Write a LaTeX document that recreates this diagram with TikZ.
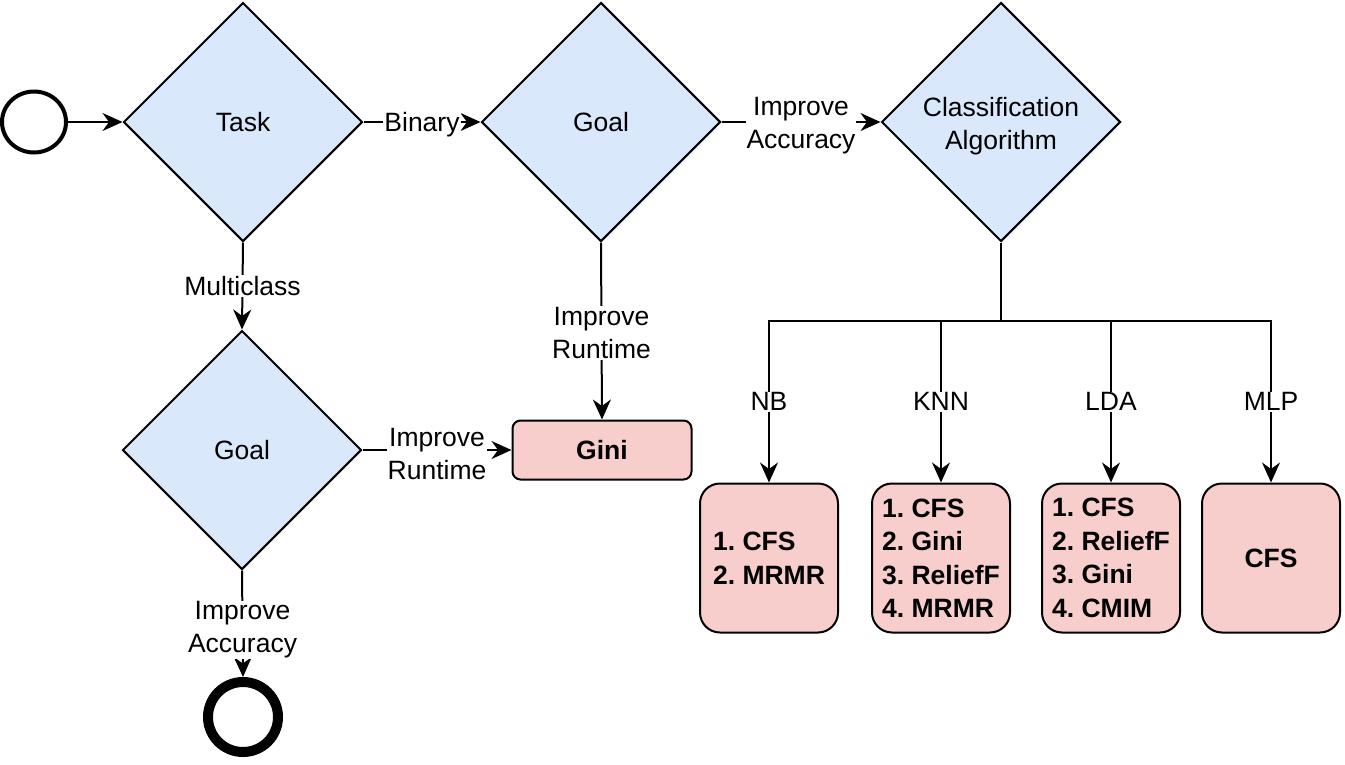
\documentclass[tikz,border=0pt]{standalone}
\usepackage{fontspec}
\setmainfont{Liberation Sans}
\usetikzlibrary{shapes.geometric,arrows.meta}
\definecolor{dblue}{HTML}{DAE8FC}
\definecolor{bred}{HTML}{F8CECC}
\frenchspacing
\begin{document}
\begin{tikzpicture}[x=1pt,y=-1pt,
  every node/.style={font=\fontsize{26.5}{33}\selectfont},
  dec/.style={diamond,draw,fill=dblue,line width=2pt,minimum width=239pt,minimum height=239pt,aspect=1,inner sep=0pt,align=center},
  resbox/.style={rectangle,rounded corners=20pt,draw,fill=bred,line width=2pt,minimum width=138pt,minimum height=149pt,inner sep=0pt,align=left,font=\fontsize{26.5}{33.5}\selectfont\bfseries},
  lbl/.style={fill=white,inner sep=1pt,align=center},
  conn/.style={line width=2pt,-{Stealth[length=20pt,width=18pt,inset=6.5pt]}},
  plain/.style={line width=2pt}
]
\useasboundingbox (0,0) rectangle (1345,764);
% start and end
\node[ellipse,draw,line width=4pt,minimum width=64pt,minimum height=61pt,inner sep=0pt] (start) at (34,122) {};
\node[circle,draw,line width=10pt,minimum size=70pt,inner sep=0pt] (end) at (243,717) {};
% decisions
\node[dec] (task) at (243,122) {Task};
\node[dec] (goal1) at (601,122) {Goal};
\node[dec,label={[align=center,yshift=-4pt]center:Classification\\Algorithm}] (cls) at (1001,122) {};
\node[dec] (goal2) at (242,450) {Goal};
% results
\node[rectangle,rounded corners=8pt,draw,fill=bred,line width=2pt,minimum width=179pt,minimum height=59pt,inner sep=0pt,font=\fontsize{26.5}{33}\selectfont\bfseries] (gini) at (602,450) {Gini};
\node[resbox] (nb) at (769,558) {1. CFS\\2. MRMR};
\node[resbox] (knn) at (941,558) {1. CFS\\2. Gini\\3. ReliefF\\4. MRMR};
\node[resbox] (lda) at (1111,558) {1. CFS\\2. ReliefF\\3. Gini\\4. CMIM};
\node[resbox] (mlp) at (1271,558) {CFS};
% connectors
\draw[conn] (start.east) -- (task.west);
\draw[conn] (task.east) -- node[lbl,yshift=-2.5pt] {Binary} (goal1.west);
\draw[conn] (goal1.east) -- node[lbl,yshift=-4pt] {Improve\\Accuracy} (cls.west);
\draw[conn] (task.south) -- node[lbl] {Multiclass} (goal2.north);
\draw[conn] (goal1.south) -- node[lbl,pos=0.51] {Improve\\Runtime} (gini.north);
\draw[conn] (goal2.east) -- node[lbl,yshift=-4pt] {Improve\\Runtime} (gini.west);
\draw[conn] (goal2.south) -- node[lbl,pos=0.52,yshift=-4pt] {Improve\\Accuracy} (end.north);
\coordinate (bus) at (1001,321);
\draw[plain] (cls.south) -- (bus);
\draw[conn] (bus) -| node[lbl,pos=0.75] {NB} (nb.north);
\draw[conn] (bus) -| node[lbl,pos=0.75] {KNN} (knn.north);
\draw[conn] (bus) -| node[lbl,pos=0.75] {LDA} (lda.north);
\draw[conn] (bus) -| node[lbl,pos=0.75] {MLP} (mlp.north);
\end{tikzpicture}
\end{document}
